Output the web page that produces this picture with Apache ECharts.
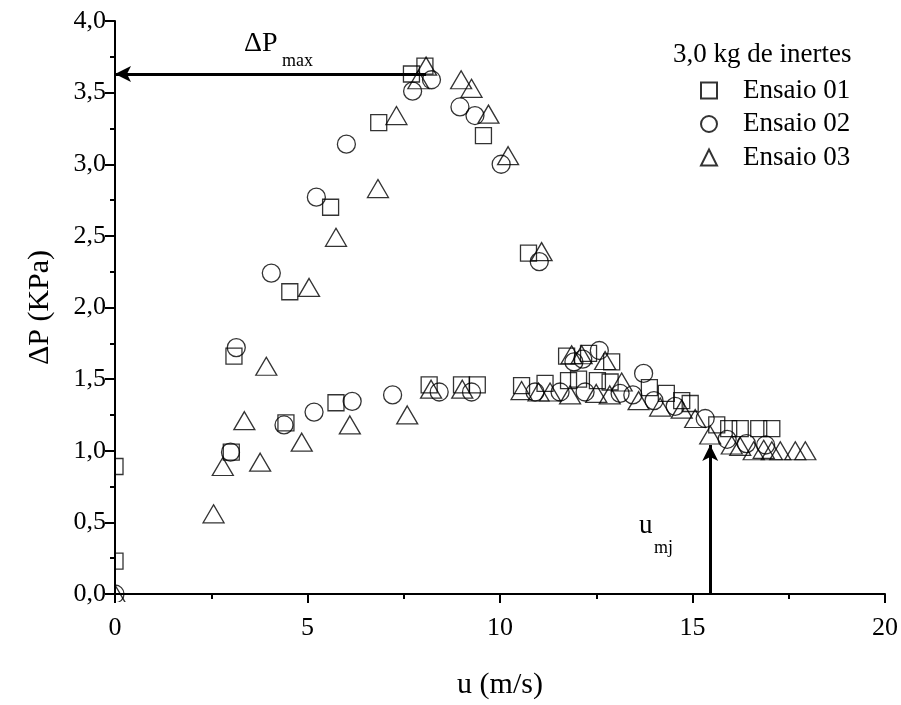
<!DOCTYPE html>
<html>
<head>
<meta charset="utf-8">
<script src="https://cdn.jsdelivr.net/npm/echarts@6/dist/echarts.min.js"></script>
<style>
  html, body { margin: 0; padding: 0; background: #fff; }
  #chart { width: 901px; height: 705px; }
</style>
</head>
<body>
<div id="chart"></div>
<script>
// Pressure drop ΔP (kPa) versus superficial velocity u (m/s), three runs
const seriesNames = ['Ensaio 01', 'Ensaio 02', 'Ensaio 03'];

const ensaio01 = [
  [0, 0.89], [0, 0.23], [3.09, 1.66], [3.02, 0.99], [4.54, 2.11], [4.44, 1.195],
  [5.60, 2.70], [5.74, 1.335], [6.85, 3.29], [7.70, 3.63], [8.05, 3.685],
  [8.16, 1.46], [9.00, 1.46], [9.41, 1.46], [9.57, 3.20], [10.74, 2.38],
  [10.56, 1.455], [11.17, 1.47], [11.73, 1.66], [11.78, 1.49], [12.04, 1.50],
  [12.30, 1.68], [12.53, 1.49], [12.86, 1.48], [12.90, 1.62], [13.88, 1.44],
  [14.32, 1.40], [14.72, 1.35], [14.94, 1.33], [15.63, 1.18], [15.94, 1.155],
  [16.24, 1.155], [16.72, 1.155], [17.06, 1.155]
];

const ensaio02 = [
  [0, 0], [3.0, 0.99], [3.15, 1.72], [4.06, 2.24], [4.39, 1.18], [5.17, 1.27],
  [5.23, 2.77], [6.01, 3.14], [6.16, 1.345], [7.21, 1.39], [7.73, 3.51],
  [8.22, 3.59], [8.42, 1.41], [8.96, 3.40], [9.26, 1.41], [9.35, 3.34],
  [10.03, 3.00], [11.02, 2.32], [10.91, 1.41], [11.56, 1.41], [11.92, 1.62],
  [12.15, 1.64], [12.58, 1.70], [12.21, 1.41], [13.12, 1.40], [13.45, 1.39],
  [13.73, 1.54], [14.0, 1.35], [14.55, 1.31], [15.33, 1.225], [15.9, 1.08],
  [16.4, 1.05], [16.9, 1.04]
];

const ensaio03 = [
  [0, 0], [2.56, 0.56], [2.80, 0.89], [3.36, 1.21], [3.77, 0.92], [3.93, 1.59],
  [4.85, 1.06], [5.04, 2.14], [5.74, 2.49], [6.10, 1.18], [6.83, 2.83],
  [7.31, 3.34], [7.59, 1.25], [7.88, 3.59], [8.08, 3.685], [8.21, 1.43],
  [8.99, 3.59], [9.02, 1.43], [9.26, 3.53], [9.70, 3.35], [10.21, 3.06],
  [11.08, 2.39], [10.56, 1.42], [11.0, 1.41], [11.3, 1.41], [11.86, 1.67],
  [12.12, 1.67], [11.82, 1.39], [12.50, 1.40], [12.73, 1.63], [12.85, 1.39],
  [13.16, 1.48], [13.6, 1.35], [14.16, 1.305], [14.72, 1.29], [15.07, 1.225],
  [15.46, 1.11], [16.02, 1.04], [16.24, 1.03], [16.59, 1.0], [16.85, 1.01],
  [17.06, 1.0], [17.28, 1.0], [17.67, 1.0], [17.93, 1.0]
];

// Annotated quantities
const dPmax = { u: 8.08, p: 3.63 };
const umj = { u: 15.46, p: 1.04 };

const FONT = '"Liberation Serif", "Times New Roman", serif';

const chart = echarts.init(document.getElementById('chart'), null, { renderer: 'canvas' });

const baseItemStyle = { color: 'rgba(255,255,255,0)', borderColor: '#000', borderWidth: 1.3 };

function commaFmt(v) {
  return v.toFixed(1).replace('.', ',');
}

const option = {
  animation: false,
  backgroundColor: '#fff',
  grid: { left: 115, right: 16, top: 21, bottom: 104, containLabel: false },
  title: {
    text: '3,0 kg de inertes',
    left: 668, top: 36,
    textStyle: { fontFamily: FONT, fontSize: 27, fontWeight: 'normal', color: '#000' }
  },
  legend: {
    data: seriesNames,
    orient: 'vertical',
    left: 695, top: 72,
    itemWidth: 16, itemHeight: 16,
    itemGap: 6.5,
    symbolKeepAspect: true,
    selectedMode: false,
    textStyle: { fontFamily: FONT, fontSize: 27, color: '#000', lineHeight: 16, padding: [0, 0, 0, 21] }
  },
  xAxis: {
    type: 'value', min: 0, max: 20, interval: 5, z: 10,
    name: 'u (m/s)', nameLocation: 'middle', nameGap: 76,
    nameTextStyle: { fontFamily: FONT, fontSize: 30, color: '#000' },
    axisLine: { show: true, lineStyle: { color: '#000', width: 2 } },
    axisTick: { show: true, length: 9, lineStyle: { color: '#000', width: 2 } },
    minorTick: { show: true, splitNumber: 2, length: 5, lineStyle: { color: '#000', width: 2 } },
    axisLabel: { fontFamily: FONT, fontSize: 26, color: '#000', margin: 21 },
    splitLine: { show: false }
  },
  yAxis: {
    type: 'value', min: 0, max: 4, interval: 0.5, z: 10,
    name: 'ΔP (KPa)', nameLocation: 'middle', nameGap: 60, nameRotate: 90,
    nameTextStyle: { fontFamily: FONT, fontSize: 30, color: '#000' },
    axisLine: { show: true, lineStyle: { color: '#000', width: 2 } },
    axisTick: { show: true, length: 10, lineStyle: { color: '#000', width: 2 } },
    minorTick: { show: true, splitNumber: 2, length: 5, lineStyle: { color: '#000', width: 2 } },
    axisLabel: { fontFamily: FONT, fontSize: 26, color: '#000', margin: 9, formatter: commaFmt },
    splitLine: { show: false }
  },
  graphic: [
    // white masks so markers sitting on the axes are cut at the frame
    { type: 'rect', z: 5, silent: true, shape: { x: 0, y: 0, width: 114, height: 705 }, style: { fill: '#fff' } },
    { type: 'rect', z: 5, silent: true, shape: { x: 0, y: 602, width: 901, height: 103 }, style: { fill: '#fff' } },
    { type: 'text', z: 20, left: 244, top: 30, style: { text: 'ΔP', fontFamily: FONT, fontSize: 28, fill: '#000' } },
    { type: 'text', z: 20, left: 282, top: 52, style: { text: 'max', fontFamily: FONT, fontSize: 18, fill: '#000' } },
    { type: 'text', z: 20, left: 639, top: 512, style: { text: 'u', fontFamily: FONT, fontSize: 27, fill: '#000' } },
    { type: 'text', z: 20, left: 654, top: 539, style: { text: 'mj', fontFamily: FONT, fontSize: 18, fill: '#000' } }
  ],
  series: [
    {
      name: seriesNames[0], type: 'scatter', data: ensaio01, z: 2,
      symbol: 'rect', symbolSize: 16, itemStyle: baseItemStyle, silent: true, clip: false,
      markLine: {
        silent: true, animation: false,
        lineStyle: { color: '#000', width: 3, type: 'solid' },
        label: { show: false },
        symbolSize: [12, 16],
        data: [
          [
            { coord: [dPmax.u, dPmax.p], symbol: 'none' },
            { coord: [0, dPmax.p], symbol: 'arrow' }
          ],
          [
            { coord: [umj.u, 0], symbol: 'none' },
            { coord: [umj.u, umj.p], symbol: 'arrow' }
          ]
        ]
      }
    },
    {
      name: seriesNames[1], type: 'scatter', data: ensaio02, z: 2,
      symbol: 'circle', symbolSize: 18, itemStyle: baseItemStyle, silent: true, clip: false
    },
    {
      name: seriesNames[2], type: 'scatter', data: ensaio03, z: 2,
      symbol: 'triangle', symbolSize: [21, 18], itemStyle: baseItemStyle, silent: true, clip: false
    }
  ]
};

chart.setOption(option);
</script>
</body>
</html>
